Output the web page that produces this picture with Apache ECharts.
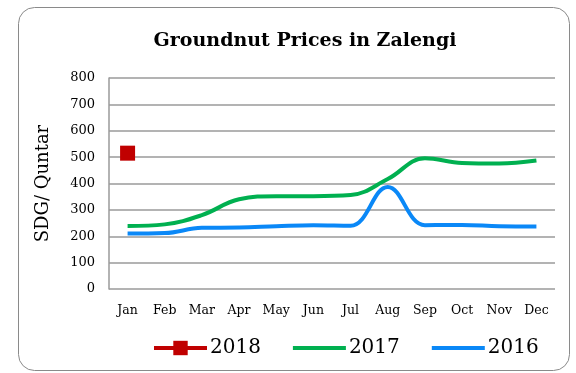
<!DOCTYPE html>
<html>
<head>
<meta charset="utf-8">
<script src="https://cdn.jsdelivr.net/npm/echarts@6/dist/echarts.min.js"></script>
<style>
  html, body { margin: 0; padding: 0; background: #fff; }
  #chart { width: 576px; height: 373px; }
</style>
</head>
<body>
<div id="chart"></div>
<script>
// Monthly groundnut prices (SDG per quntar) in Zalengi
const months = ['Jan', 'Feb', 'Mar', 'Apr', 'May', 'Jun', 'Jul', 'Aug', 'Sep', 'Oct', 'Nov', 'Dec'];
const prices2018 = [515, null, null, null, null, null, null, null, null, null, null, null];
const prices2017 = [239, 245, 280, 340, 352, 352, 356, 417, 496, 478, 476, 487];
const prices2016 = [210, 212, 232, 233, 238, 242, 240, 387, 242, 243, 238, 237];
const yTicks = { min: 0, max: 800, interval: 100 };

const serif = '"DejaVu Serif", "Liberation Serif", serif';

const chart = echarts.init(document.getElementById('chart'), null, { renderer: 'canvas' });
chart.setOption({
  animation: false,
  backgroundColor: '#ffffff',
  graphic: [{
    type: 'rect',
    shape: { x: 18.5, y: 7.5, width: 551, height: 363, r: 16 },
    style: { fill: 'none', stroke: '#8a8a8a', lineWidth: 1 },
    silent: true
  }],
  title: {
    text: 'Groundnut Prices in Zalengi',
    left: 300, top: 27, textAlign: 'center',
    textStyle: { fontFamily: serif, fontWeight: 'bold', fontSize: 19, color: '#000' }
  },
  grid: { left: 109, right: 21, top: 78, bottom: 84, containLabel: false },
  xAxis: {
    type: 'category',
    data: months,
    boundaryGap: true,
    axisLine: { show: false },
    axisTick: { show: false },
    axisLabel: { fontFamily: serif, fontSize: 12.5, color: '#000', margin: 15 }
  },
  yAxis: {
    type: 'value',
    min: yTicks.min, max: yTicks.max, interval: yTicks.interval,
    name: 'SDG/ Quntar',
    nameLocation: 'middle',
    nameGap: 57,
    nameTextStyle: { fontFamily: serif, fontSize: 18, color: '#000' },
    axisLine: { show: true, lineStyle: { color: '#9a9a9a', width: 1.5 } },
    axisTick: { show: false },
    axisLabel: { fontFamily: serif, fontSize: 13, color: '#000', margin: 14 },
    splitLine: { lineStyle: { color: '#9a9a9a', width: 1.5 } }
  },
  legend: {
    bottom: 10, left: 147,
    itemWidth: 53, itemHeight: 18, itemGap: 30,
    lineStyle: { width: 4 },
    textStyle: { fontFamily: serif, fontSize: 20, color: '#000', padding: [0, 0, 0, -2] },
    data: [
      { name: '2018' },
      { name: '2017', itemStyle: { opacity: 0 } },
      { name: '2016', itemStyle: { opacity: 0 } }
    ]
  },
  series: [
    {
      name: '2018', type: 'line', data: prices2018,
      symbol: 'rect', symbolSize: 15,
      itemStyle: { color: '#c00000' },
      lineStyle: { color: '#c00000', width: 4 }
    },
    {
      name: '2017', type: 'line', data: prices2017,
      smooth: 0.4, symbol: 'none',
      itemStyle: { color: '#00b050' },
      lineStyle: { color: '#00b050', width: 4 }
    },
    {
      name: '2016', type: 'line', data: prices2016,
      smooth: 0.4, symbol: 'none',
      itemStyle: { color: '#0a88f7' },
      lineStyle: { color: '#0a88f7', width: 4 }
    }
  ]
});
</script>
</body>
</html>
